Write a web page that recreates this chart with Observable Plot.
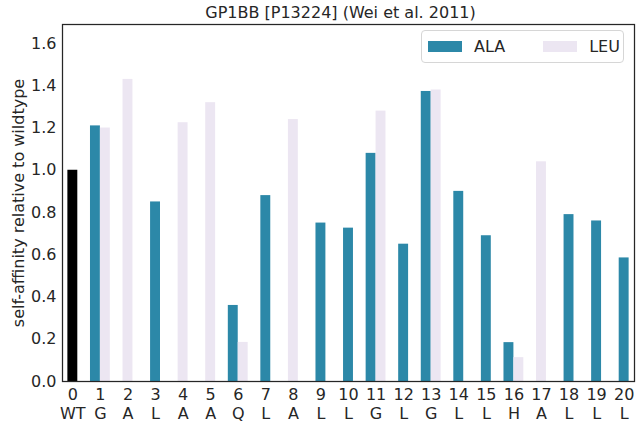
<!DOCTYPE html>
<html>
<head>
<meta charset="utf-8">
<script src="https://cdn.jsdelivr.net/npm/d3@7"></script>
<script src="https://cdn.jsdelivr.net/npm/@observablehq/plot@0.6"></script>
<style>
  html, body { margin: 0; padding: 0; background: #fff; }
  #chart { position: relative; width: 643px; height: 439px; font-family: "DejaVu Sans", sans-serif; color: #262626; }
  .legend { position: absolute; left: 421px; top: 30px; width: 203px; height: 33px; box-sizing: border-box;
            border: 1.5px solid #d6d6d6; border-radius: 4px; background: rgba(255,255,255,0.85);
            display: flex; align-items: center; font-size: 16px; }
  .legend .sw { width: 34px; height: 11px; margin-left: 6px; margin-right: 12px; }
  .legend .lab { margin-right: 32px; }
</style>
</head>
<body>
<div id="chart"></div>
<script>
// Positions along the GP1BB segment and the residue at each one (0 = wildtype)
const residues = ["WT","G","A","L","A","A","Q","L","A","L","L","G","L","G","L","L","H","A","L","L","L"];
const wildtype = 1.0;
// Self-affinity of the alanine and leucine substitutions (null = not measured)
const ala = [null, 1.21, null, 0.85, null, null, 0.36, 0.88, null, 0.75, 0.726, 1.08, 0.65, 1.373, 0.90, 0.69, 0.184, null, 0.79, 0.76, 0.585];
const leu = [null, 1.20, 1.43, null, 1.225, 1.32, 0.185, null, 1.24, null, null, 1.28, null, 1.38, null, null, 0.113, 1.04, null, null, null];
const seriesNames = ["ALA", "LEU"];
const seriesColors = ["#2c88a8", "#ece6f2"];
const yTicks = [0, 0.2, 0.4, 0.6, 0.8, 1.0, 1.2, 1.4, 1.6];

// Bars sit side by side where both substitutions were measured, centred otherwise
const barWidth = 0.36;
const rows = [];
rows.push({pos: 0, series: "WT", value: wildtype, x1: -barWidth / 2, x2: barWidth / 2});
for (let i = 1; i < residues.length; i++) {
  const both = ala[i] != null && leu[i] != null;
  if (ala[i] != null) rows.push({pos: i, series: "ALA", value: ala[i],
    x1: both ? i - barWidth : i - barWidth / 2, x2: both ? i : i + barWidth / 2});
  if (leu[i] != null) rows.push({pos: i, series: "LEU", value: leu[i],
    x1: both ? i : i - barWidth / 2, x2: both ? i + barWidth : i + barWidth / 2});
}

const ink = "#262626";
const chart = Plot.plot({
  width: 643,
  height: 439,
  marginLeft: 62,
  marginRight: 9,
  marginTop: 24,
  marginBottom: 58,
  style: {fontFamily: "DejaVu Sans, sans-serif", fontSize: "16px", color: ink, background: "#fff"},
  x: {domain: [-0.375, 20.375]},
  y: {domain: [0, 1.69]},
  color: {domain: ["WT", ...seriesNames], range: ["#000000", ...seriesColors]},
  marks: [
    Plot.rectY(rows, {x1: "x1", x2: "x2", y1: 0, y2: "value", fill: "series"}),
    Plot.axisX({ticks: d3.range(residues.length), tickSize: 0, tickPadding: 5, lineHeight: 1.2,
      tickFormat: i => `${i}\n${residues[i]}`, label: null, fontSize: 16}),
    Plot.axisY({ticks: yTicks, tickSize: 0, tickPadding: 6, tickFormat: d3.format(".1f"),
      label: null, fontSize: 16}),
    Plot.text(["self-affinity relative to wildtype"], {frameAnchor: "left", dx: -44, rotate: -90,
      textAnchor: "middle", lineAnchor: "middle", fontSize: 16, fill: ink}),
    Plot.frame({stroke: ink, strokeWidth: 1.25}),
    Plot.text(["GP1BB [P13224] (Wei et al. 2011)"], {frameAnchor: "top", dy: -12, dx: -8, lineAnchor: "middle",
      fontSize: 16, fill: ink})
  ]
});
const root = document.getElementById("chart");
root.appendChild(chart);

// Legend box in the upper right of the plot area
const legend = document.createElement("div");
legend.className = "legend";
seriesNames.forEach((name, k) => {
  const sw = document.createElement("span");
  sw.className = "sw";
  sw.style.background = seriesColors[k];
  const lab = document.createElement("span");
  lab.className = "lab";
  lab.textContent = name;
  if (k === seriesNames.length - 1) lab.style.marginRight = "0";
  legend.append(sw, lab);
});
root.appendChild(legend);
</script>
</body>
</html>
